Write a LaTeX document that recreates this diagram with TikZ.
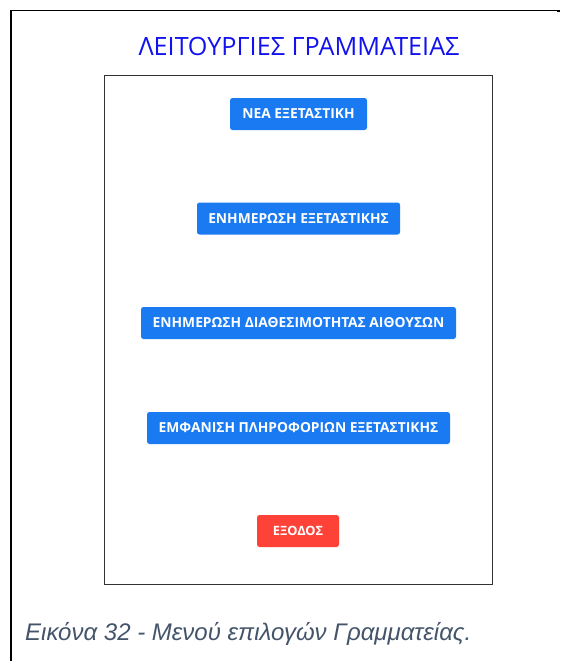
\documentclass[tikz,border=0pt]{standalone}
\usepackage{fontspec}
\setmainfont{Liberation Sans}
\newfontfamily\uifont{Open Sans}
\newfontfamily\capfont{Liberation Sans}
\definecolor{titleblue}{RGB}{18,18,238}
\definecolor{btnblue}{RGB}{26,122,242}
\definecolor{btnred}{RGB}{255,66,56}
\definecolor{capgray}{RGB}{68,84,106}
\definecolor{boxline}{RGB}{50,50,50}
\tikzset{
  btn/.style={fill=btnblue, text=white, rounded corners=2.5pt, inner sep=0pt,
    minimum height=32pt, font=\uifont\bfseries\fontsize{13.8}{15}\selectfont},
  exitbtn/.style={btn, fill=btnred, font=\uifont\bfseries\fontsize{12.8}{15}\selectfont},
  frameline/.style={line width=1.6pt, black},
}
\begin{document}
\begin{tikzpicture}[x=1pt,y=-1pt]
  \useasboundingbox (0,0) rectangle (560,661);
  % page frame: top and left rules only
  \coordinate (ftl) at (11,10.5);
  \coordinate (ftr) at (557,10.5);
  \coordinate (fbl) at (11,661);
  \draw[frameline] (fbl) -- (ftl) -- (ftr);
  \fill[black] (557,9.8) rectangle (560,11.6);
  % title
  \node[text=titleblue, font=\uifont\fontsize{25.2}{29}\selectfont, anchor=base]
    (title) at (299,56) {ΛΕΙΤΟΥΡΓΙΕΣ ΓΡΑΜΜΑΤΕΙΑΣ};
  % menu panel
  \draw[boxline, line width=0.9pt] (104.5,75.5) rectangle (492.7,584.3);
  \node (panel) at (298.6,330) {};
  % menu buttons
  \node[btn, minimum width=137pt] (nea) at (298.5,114) {ΝΕΑ ΕΞΕΤΑΣΤΙΚΗ};
  \node[btn, minimum width=203pt] (enim) at (298.5,218.5) {ΕΝΗΜΕΡΩΣΗ ΕΞΕΤΑΣΤΙΚΗΣ};
  \node[btn, minimum width=315pt] (diath) at (298.5,323) {ΕΝΗΜΕΡΩΣΗ ΔΙΑΘΕΣΙΜΟΤΗΤΑΣ ΑΙΘΟΥΣΩΝ};
  \node[btn, minimum width=303pt] (emf) at (298.5,428) {ΕΜΦΑΝΙΣΗ ΠΛΗΡΟΦΟΡΙΩΝ ΕΞΕΤΑΣΤΙΚΗΣ};
  \node[exitbtn, minimum width=82pt] (exit) at (298,531) {ΕΞΟΔΟΣ};
  % caption
  \node[text=capgray, font=\capfont\itshape\fontsize{24}{27}\selectfont, anchor=base west, inner sep=0pt]
    (caption) at (25,640) {Εικόνα 32 - Μενού επιλογών Γραμματείας.};
\end{tikzpicture}
\end{document}
